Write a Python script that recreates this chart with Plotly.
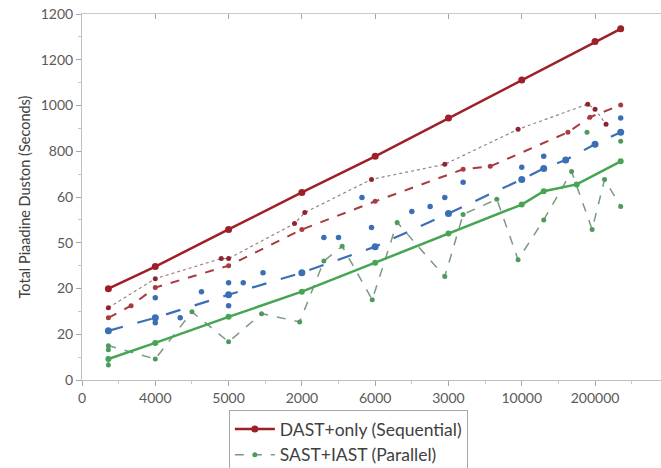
import plotly.graph_objects as go

# ---- axis labels ----
x_tick_pos = [0, 1, 2, 3, 4, 5, 6, 7]
x_tick_text = ["0", "4000", "5000", "2000", "6000", "3000", "10000", "200000"]
y_tick_pos = [0, 200, 400, 600, 800, 1000, 1200, 1400, 1600]
y_tick_text = ["0", "20", "20", "50", "60", "800", "1000", "1200", "1200"]

# ---- series ----
seq_x = [0.36, 1.0, 2.0, 3.0, 4.0, 5.0, 6.0, 7.0, 7.35]
seq_y = [399, 496, 658, 820, 978, 1145, 1311, 1480, 1535]

green_x = [0.36, 1.0, 2.0, 3.0, 4.0, 5.0, 6.0, 6.3, 6.75, 7.35]
green_y = [92, 162, 276, 386, 513, 640, 767, 825, 855, 956]

blue_x = [0.36, 1.0, 2.0, 3.0, 4.0, 5.0, 6.0, 6.3, 6.6, 7.0, 7.35]
blue_y = [215, 272, 373, 469, 583, 728, 877, 925, 962, 1031, 1083]

reddash_x = [0.36, 0.67, 1.0, 2.0, 3.0, 4.0, 5.2, 5.57, 6.63, 6.93, 7.35]
reddash_y = [272, 325, 404, 500, 658, 781, 921, 934, 1083, 1149, 1202]

par_x = [0.36, 0.36, 1.0, 1.5, 2.0, 2.45, 2.97, 3.3, 3.55, 3.96, 4.3, 4.95, 5.2, 5.66, 5.95, 6.3, 6.68, 6.96, 7.13, 7.35]
par_y = [66, 150, 92, 298, 167, 290, 254, 520, 585, 351, 689, 452, 724, 790, 526, 700, 912, 658, 877, 759]

gextra_x = [0.36, 6.89, 7.35]
gextra_y = [132, 1083, 1044]

redpts_x = [0.36, 1.0, 1.9, 2.0, 2.9, 3.04, 3.95, 4.95, 5.95, 6.9, 7.0, 7.15]
redpts_y = [316, 443, 531, 531, 684, 732, 877, 943, 1096, 1206, 1184, 1118]

bluepts_x = [1.0, 1.0, 1.34, 1.63, 2.0, 2.0, 2.2, 2.47, 3.3, 3.5, 3.82, 3.95, 4.5, 4.75, 4.95, 5.2, 6.0, 6.3, 7.35]
bluepts_y = [360, 250, 272, 386, 425, 325, 425, 469, 623, 623, 798, 667, 737, 759, 798, 864, 930, 978, 1145]

fig = go.Figure()

fig.add_trace(go.Scatter(x=par_x, y=par_y, mode="lines+markers", name="SAST+IAST (Parallel)",
                         line=dict(color="#7a9a80", width=1.5, dash="dash"),
                         marker=dict(color="#4d9a5c", size=5), showlegend=True, legendrank=2))
fig.add_trace(go.Scatter(x=gextra_x, y=gextra_y, mode="markers", showlegend=False,
                         marker=dict(color="#4d9a5c", size=5)))
fig.add_trace(go.Scatter(x=redpts_x, y=redpts_y, mode="lines+markers", showlegend=False,
                         line=dict(color="#9a8080", width=1.2, dash="dot"),
                         marker=dict(color="#8e2430", size=5)))
fig.add_trace(go.Scatter(x=bluepts_x, y=bluepts_y, mode="markers", showlegend=False,
                         marker=dict(color="#3b6fb5", size=5.5)))
fig.add_trace(go.Scatter(x=green_x, y=green_y, mode="lines+markers", showlegend=False,
                         line=dict(color="#45a552", width=2.5),
                         marker=dict(color="#45a552", size=6)))
fig.add_trace(go.Scatter(x=blue_x, y=blue_y, mode="lines+markers", showlegend=False,
                         line=dict(color="#3b6fb5", width=2.2, dash="longdash"),
                         marker=dict(color="#3b6fb5", size=7)))
fig.add_trace(go.Scatter(x=reddash_x, y=reddash_y, mode="lines+markers", showlegend=False,
                         line=dict(color="#a83a40", width=2, dash="dash"),
                         marker=dict(color="#a83a40", size=5)))
fig.add_trace(go.Scatter(x=seq_x, y=seq_y, mode="lines+markers", name="DAST+only (Sequential)",
                         line=dict(color="#9e1f26", width=2.5),
                         marker=dict(color="#9e1f26", size=7), legendrank=1))

axis_font = dict(family="Lato, Open Sans, sans-serif", size=14, color="#595959")

fig.update_layout(
    width=661, height=468,
    margin=dict(l=82, r=0, t=14, b=88, autoexpand=False),
    paper_bgcolor="white", plot_bgcolor="white",
    font=dict(family="Lato, Open Sans, sans-serif", color="#404040"),
    xaxis=dict(range=[0, 7.9], tickmode="array", tickvals=x_tick_pos, ticktext=x_tick_text,
               automargin=False,
               showgrid=False, zeroline=False, showline=True, linecolor="#bfbfbf", linewidth=1,
               ticks="outside", ticklen=5, tickcolor="#a6a6a6", tickfont=axis_font,
               minor=dict(tickmode="linear", tick0=0, dtick=0.5, ticks="outside", ticklen=3,
                          tickcolor="#c8c8c8", showgrid=False)),
    xaxis2=dict(range=[0, 7.9], overlaying="x", side="top", tickmode="array", tickvals=x_tick_pos,
                automargin=False,
                showticklabels=False, showgrid=False, zeroline=False, showline=True,
                linecolor="#c8c8c8", linewidth=1, ticks="inside", ticklen=5, tickcolor="#a6a6a6"),
    yaxis=dict(range=[0, 1600], tickmode="array", tickvals=y_tick_pos, ticktext=y_tick_text,
               automargin=False,
               showgrid=False, zeroline=False, showline=True, linecolor="#bfbfbf", linewidth=1,
               ticks="outside", ticklen=5, tickcolor="#a6a6a6", tickfont=axis_font,
               title=dict(text="Total Piaadine Duston (Seconds)",
                          font=dict(family="Lato, Open Sans, sans-serif", size=14.5, color="#404040"),
                          standoff=6),
               minor=dict(tickmode="linear", tick0=0, dtick=100, ticks="outside", ticklen=3,
                          tickcolor="#c8c8c8", showgrid=False)),
    legend=dict(orientation="v", x=0.46, xanchor="center", y=-0.082, yanchor="top",
                bordercolor="#a6a6a6", borderwidth=1, bgcolor="white",
                font=dict(family="Lato, Open Sans, sans-serif", size=17.5, color="#404040"),
                traceorder="normal", itemwidth=40, tracegroupgap=0),
)

# invisible trace to materialize the top axis
fig.add_trace(go.Scatter(x=[0], y=[0], xaxis="x2", mode="markers", marker=dict(opacity=0),
                         showlegend=False, hoverinfo="skip"))

fig.add_shape(type="line", xref="paper", yref="paper", x0=0.254, x1=0.664, y0=-0.16, y1=-0.16,
              line=dict(color="#bfbfbf", width=1))

fig.write_html("out.html", config={"displayModeBar": False},
               post_script="document.body.style.margin='0px';document.body.style.overflow='hidden';")
